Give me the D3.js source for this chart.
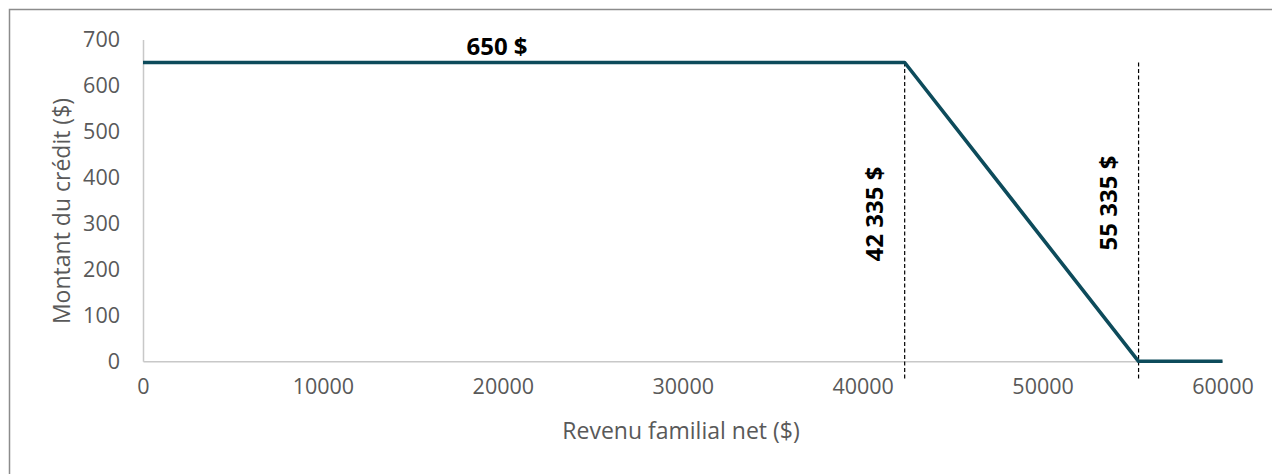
<!DOCTYPE html>
<html>
  <head>
    <meta http-equiv="Content-Type" content="text/html;charset=utf-8">
    <title>Montant du crédit</title>
    <script src="https://cdn.jsdelivr.net/npm/d3@7"></script>
    <style type="text/css">
body {
    margin: 0;
    background: #fff;
}
text {
    font-family: "Open Sans", sans-serif;
}
.tick text {
    fill: #595959;
    font-size: 21.5px;
}
.title {
    fill: #595959;
    font-size: 23px;
}
.note {
    fill: #000;
    font-size: 24px;
    font-weight: bold;
}
    </style>
  </head>
  <body>
    <script type="text/javascript">
// data
var incomes = [0, 42335, 55335, 60000],
    credits = [650, 650, 0, 0],
    yTicks = [0, 100, 200, 300, 400, 500, 600, 700],
    xTicks = [0, 10000, 20000, 30000, 40000, 50000, 60000],
    markers = [42335, 55335],
    markerLabels = ['42 335 $', '55 335 $'],
    plateauLabel = '650 $';

var points = incomes.map(function(d, i) { return [d, credits[i]]; });

var w = 1272,
    h = 474;

var x = d3.scaleLinear().domain([0, 60000]).range([143, 1222.5]),
    y = d3.scaleLinear().domain([0, 700]).range([361.3, 39.5]);

var svg = d3.select('body').append('svg')
    .attr('width', w)
    .attr('height', h);

// outer frame (cropped at right and bottom)
svg.append('rect')
    .attr('x', 9.5)
    .attr('y', 9.5)
    .attr('width', w + 20)
    .attr('height', h + 20)
    .attr('fill', 'none')
    .attr('stroke', '#8c8c8c')
    .attr('stroke-width', 1.5);

// axes
var yAxis = svg.append('g')
    .attr('transform', 'translate(' + x(0) + ',0)')
    .call(d3.axisLeft(y).tickValues(yTicks).tickSize(0).tickPadding(23).tickFormat(d3.format('d')));
yAxis.select('.domain').attr('stroke', '#c8c8c8').attr('stroke-width', 1.5);

var xAxis = svg.append('g')
    .attr('transform', 'translate(0,' + y(0) + ')')
    .call(d3.axisBottom(x).tickValues(xTicks).tickSize(0).tickPadding(17).tickFormat(d3.format('d')));
xAxis.select('.domain').attr('stroke', '#c8c8c8').attr('stroke-width', 1.5);

// axis titles
svg.append('text')
    .attr('class', 'title')
    .attr('text-anchor', 'middle')
    .attr('x', 681)
    .attr('y', 439)
    .text('Revenu familial net ($)');

svg.append('text')
    .attr('class', 'title')
    .attr('text-anchor', 'middle')
    .attr('transform', 'translate(70,211) rotate(-90)')
    .text('Montant du crédit ($)');

// dashed markers
svg.selectAll('line.marker')
    .data(markers)
  .enter().append('line')
    .attr('class', 'marker')
    .attr('x1', function(d) { return x(d); })
    .attr('x2', function(d) { return x(d); })
    .attr('y1', y(650))
    .attr('y2', 380)
    .attr('stroke', '#000')
    .attr('stroke-width', 1.2)
    .attr('stroke-dasharray', '4,2.5');

// credit line
svg.append('path')
    .datum(points)
    .attr('fill', 'none')
    .attr('stroke', '#0d4b5b')
    .attr('stroke-width', 3.6)
    .attr('stroke-linejoin', 'round')
    .attr('d', d3.line()
        .x(function(d) { return x(d[0]); })
        .y(function(d) { return y(d[1]); }));

// labels
svg.append('text')
    .attr('class', 'note')
    .attr('text-anchor', 'middle')
    .attr('x', 497)
    .attr('y', 55)
    .text(plateauLabel);

var labelCenters = [214, 203];
svg.selectAll('text.mlabel')
    .data(markers)
  .enter().append('text')
    .attr('class', 'note mlabel')
    .attr('text-anchor', 'middle')
    .attr('transform', function(d, i) {
        return 'translate(' + (x(d) - 22) + ',' + labelCenters[i] + ') rotate(-90)';
    })
    .text(function(d, i) { return markerLabels[i]; });
    </script>
  </body>
</html>
